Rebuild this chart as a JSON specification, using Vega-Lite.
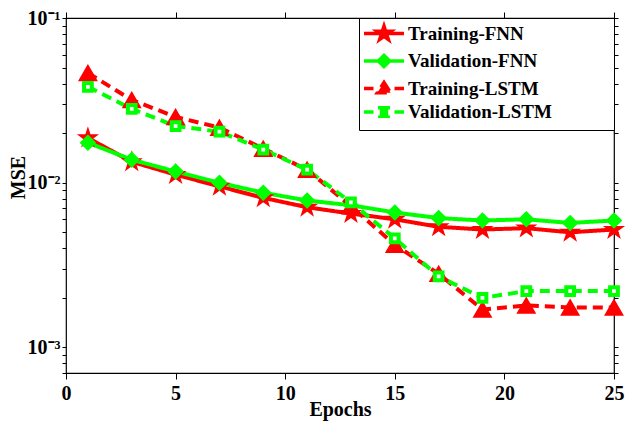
{
  "$schema": "https://vega.github.io/schema/vega-lite/v6.json",
  "width": 548,
  "height": 355,
  "autosize": {"type": "none"},
  "padding": {"left": 66, "top": 18, "right": 12, "bottom": 48},
  "background": "white",
  "config": {"view": {"stroke": "black", "strokeWidth": 1.2}, "font": "Liberation Serif"},
  "data": {
    "values": [
      {"epoch": 1, "series": "Training-FNN", "mse": 0.0187},
      {"epoch": 3, "series": "Training-FNN", "mse": 0.0134},
      {"epoch": 5, "series": "Training-FNN", "mse": 0.0112},
      {"epoch": 7, "series": "Training-FNN", "mse": 0.0095},
      {"epoch": 9, "series": "Training-FNN", "mse": 0.0081},
      {"epoch": 11, "series": "Training-FNN", "mse": 0.0071},
      {"epoch": 13, "series": "Training-FNN", "mse": 0.0065},
      {"epoch": 15, "series": "Training-FNN", "mse": 0.0060},
      {"epoch": 17, "series": "Training-FNN", "mse": 0.0054},
      {"epoch": 19, "series": "Training-FNN", "mse": 0.0052},
      {"epoch": 21, "series": "Training-FNN", "mse": 0.0053},
      {"epoch": 23, "series": "Training-FNN", "mse": 0.0050},
      {"epoch": 25, "series": "Training-FNN", "mse": 0.0052},
      {"epoch": 1, "series": "Validation-FNN", "mse": 0.0175},
      {"epoch": 3, "series": "Validation-FNN", "mse": 0.0138},
      {"epoch": 5, "series": "Validation-FNN", "mse": 0.0117},
      {"epoch": 7, "series": "Validation-FNN", "mse": 0.0100},
      {"epoch": 9, "series": "Validation-FNN", "mse": 0.0087},
      {"epoch": 11, "series": "Validation-FNN", "mse": 0.0078},
      {"epoch": 13, "series": "Validation-FNN", "mse": 0.0073},
      {"epoch": 15, "series": "Validation-FNN", "mse": 0.0066},
      {"epoch": 17, "series": "Validation-FNN", "mse": 0.0061},
      {"epoch": 19, "series": "Validation-FNN", "mse": 0.0059},
      {"epoch": 21, "series": "Validation-FNN", "mse": 0.0060},
      {"epoch": 23, "series": "Validation-FNN", "mse": 0.0057},
      {"epoch": 25, "series": "Validation-FNN", "mse": 0.0059},
      {"epoch": 1, "series": "Training-LSTM", "mse": 0.0464},
      {"epoch": 3, "series": "Training-LSTM", "mse": 0.0318},
      {"epoch": 5, "series": "Training-LSTM", "mse": 0.0251},
      {"epoch": 7, "series": "Training-LSTM", "mse": 0.0216},
      {"epoch": 9, "series": "Training-LSTM", "mse": 0.0161},
      {"epoch": 11, "series": "Training-LSTM", "mse": 0.0120},
      {"epoch": 13, "series": "Training-LSTM", "mse": 0.0072},
      {"epoch": 15, "series": "Training-LSTM", "mse": 0.0042},
      {"epoch": 17, "series": "Training-LSTM", "mse": 0.0028},
      {"epoch": 19, "series": "Training-LSTM", "mse": 0.0017},
      {"epoch": 21, "series": "Training-LSTM", "mse": 0.0018},
      {"epoch": 23, "series": "Training-LSTM", "mse": 0.00175},
      {"epoch": 25, "series": "Training-LSTM", "mse": 0.00175},
      {"epoch": 1, "series": "Validation-LSTM", "mse": 0.0382},
      {"epoch": 3, "series": "Validation-LSTM", "mse": 0.0281},
      {"epoch": 5, "series": "Validation-LSTM", "mse": 0.0221},
      {"epoch": 7, "series": "Validation-LSTM", "mse": 0.0204},
      {"epoch": 9, "series": "Validation-LSTM", "mse": 0.0159},
      {"epoch": 11, "series": "Validation-LSTM", "mse": 0.0120},
      {"epoch": 13, "series": "Validation-LSTM", "mse": 0.0076},
      {"epoch": 15, "series": "Validation-LSTM", "mse": 0.0046},
      {"epoch": 17, "series": "Validation-LSTM", "mse": 0.0027},
      {"epoch": 19, "series": "Validation-LSTM", "mse": 0.0020},
      {"epoch": 21, "series": "Validation-LSTM", "mse": 0.0022},
      {"epoch": 23, "series": "Validation-LSTM", "mse": 0.0022},
      {"epoch": 25, "series": "Validation-LSTM", "mse": 0.0022}
    ]
  },
  "layer": [
    {
      "encoding": {
        "x": {"field": "epoch", "type": "quantitative", "scale": {"domain": [0, 25], "nice": false}},
        "y": {"field": "mse", "type": "quantitative", "scale": {"type": "log", "domain": [0.0007, 0.1], "nice": false}}
      },
      "layer": [
        {
          "mark": {"type": "line", "strokeWidth": 4},
          "encoding": {
            "x": {
              "field": "epoch", "type": "quantitative",
              "scale": {"domain": [0, 25], "nice": false},
              "axis": {
                "orient": "bottom", "values": [0, 5, 10, 15, 20, 25], "grid": false, "domain": false,
                "tickColor": "black", "tickSize": 6, "labelPadding": 4,
                "labelFont": "Liberation Serif", "labelFontSize": 20, "labelFontWeight": "bold", "labelColor": "black",
                "labelFlush": false,
                "title": "Epochs", "titleFont": "Liberation Serif", "titleFontSize": 20, "titleFontWeight": "bold", "titleColor": "black",
                "titleY": 36, "titleBaseline": "middle",
                "encode": {"ticks": {"update": {"y2": {"value": -6}}}}
              }
            },
            "y": {
              "field": "mse", "type": "quantitative",
              "scale": {"type": "log", "domain": [0.0007, 0.1], "nice": false},
              "axis": {
                "orient": "left",
                "values": [0.0007, 0.0008, 0.0009, 0.001, 0.002, 0.003, 0.004, 0.005, 0.006, 0.007, 0.008, 0.009, 0.01, 0.02, 0.03, 0.04, 0.05, 0.06, 0.07, 0.08, 0.09, 0.1],
                "labelExpr": "datum.value == 0.1 ? '10⁻¹' : datum.value == 0.01 ? '10⁻²' : datum.value == 0.001 ? '10⁻³' : ''",
                "grid": false, "domain": false, "tickColor": "black", "tickSize": 4, "labelPadding": 2,
                "labelFont": "Liberation Serif", "labelFontSize": 20, "labelFontWeight": "bold", "labelColor": "black",
                "labelFlush": false, "labelOverlap": false,
                "title": "MSE", "titleFont": "Liberation Serif", "titleFontSize": 20, "titleFontWeight": "bold", "titleColor": "black",
                "titleX": -48, "titleY": 159, "titleAngle": 270, "titleAlign": "center", "titleBaseline": "middle",
                "encode": {"ticks": {"update": {"x2": {"signal": "(datum.value == 0.1 || datum.value == 0.01 || datum.value == 0.001) ? 8 : 4"}}}}
              }
            },
            "color": {
              "field": "series", "type": "nominal",
              "scale": {"domain": ["Training-FNN", "Validation-FNN", "Training-LSTM", "Validation-LSTM"], "range": ["#ff0000", "#00ff00", "#ff0000", "#00ff00"]},
              "legend": {
                "title": null, "orient": "top-right", "offset": 0, "padding": 6,
                "strokeColor": "black", "fillColor": "white",
                "labelFont": "Liberation Serif", "labelFontSize": 19, "labelFontWeight": "bold", "labelColor": "black",
                "labelLimit": 400, "labelOffset": 24,
                "labelExpr": "datum.label + '\u2800\u2800\u2800\u2800'",
                "symbolSize": 196, "symbolStrokeWidth": 3.5, "rowPadding": 0.5,
                "encode": {
                  "symbols": {"update": {
                    "shape": {"signal": "datum.value == 'Training-FNN' ? 'M-2.86,0L2.86,0M0,-1.05L0.236,-0.324L0.999,-0.324L0.381,0.124L0.617,0.849L0,0.401L-0.617,0.849L-0.381,0.124L-0.999,-0.324L-0.236,-0.324Z' : datum.value == 'Validation-FNN' ? 'M-2.86,0L2.86,0M-0.8,0L0,-0.8L0.8,0L0,0.8Z' : datum.value == 'Training-LSTM' ? 'M-2.86,0L-1.5,0M1.5,0L2.86,0M0,-0.85L0.95,0.6L-0.95,0.6Z' : 'M-2.86,0L-1.5,0M1.5,0L2.86,0M-0.6,-0.6L0.6,-0.6L0.6,0.6L-0.6,0.6Z'"},
                    "fill": {"signal": "indexof(datum.value, 'Training') == 0 ? '#ff0000' : '#00ff00'"},
                    "stroke": {"signal": "indexof(datum.value, 'Training') == 0 ? '#ff0000' : '#00ff00'"},
                    "x": {"value": 19}
                  }}
                }
              }
            },
            "strokeDash": {
              "field": "series", "type": "nominal",
              "scale": {"domain": ["Training-FNN", "Validation-FNN", "Training-LSTM", "Validation-LSTM"], "range": [[1, 0], [1, 0], [10, 6], [10, 6]]},
              "legend": null
            }
          }
        },
        {
          "transform": [{"filter": "datum.series == 'Training-FNN'"}],
          "mark": {"type": "point", "shape": "M0,-1L0.2245,-0.309L0.951,-0.309L0.363,0.118L0.588,0.809L0,0.382L-0.588,0.809L-0.363,0.118L-0.951,-0.309L-0.2245,-0.309Z", "size": 340, "filled": true, "fill": "#ff0000", "stroke": "#ff0000", "strokeWidth": 1.5, "opacity": 1}
        },
        {
          "transform": [{"filter": "datum.series == 'Validation-FNN'"}],
          "mark": {"type": "point", "shape": "diamond", "size": 210, "filled": true, "fill": "#00ff00", "stroke": "#00ff00", "strokeWidth": 1.5, "opacity": 1}
        },
        {
          "transform": [{"filter": "datum.series == 'Training-LSTM'"}],
          "mark": {"type": "point", "shape": "triangle-up", "size": 300, "filled": true, "fill": "#ff0000", "stroke": "#ff0000", "strokeWidth": 1.5, "opacity": 1}
        },
        {
          "transform": [{"filter": "datum.series == 'Validation-LSTM'"}],
          "mark": {"type": "point", "shape": "square", "size": 60, "filled": false, "fill": "#ffffff", "stroke": "#00ff00", "strokeWidth": 4, "opacity": 1}
        }
      ]
    },
    {
      "mark": {"type": "point", "opacity": 0},
      "encoding": {
        "x": {
          "field": "epoch", "type": "quantitative",
          "scale": {"domain": [0, 25], "nice": false},
          "axis": {
            "orient": "top", "values": [0, 5, 10, 15, 20, 25], "grid": false, "domain": false, "labels": false, "title": null,
            "tickColor": "black", "tickSize": 6,
            "encode": {"ticks": {"update": {"y2": {"value": 6}}}}
          }
        },
        "y": {
          "field": "mse", "type": "quantitative",
          "scale": {"type": "log", "domain": [0.0007, 0.1], "nice": false},
          "axis": {
            "orient": "right",
            "values": [0.0007, 0.0008, 0.0009, 0.001, 0.002, 0.003, 0.004, 0.005, 0.006, 0.007, 0.008, 0.009, 0.01, 0.02, 0.03, 0.04, 0.05, 0.06, 0.07, 0.08, 0.09, 0.1],
            "grid": false, "domain": false, "labels": false, "title": null, "tickColor": "black", "tickSize": 4,
            "encode": {"ticks": {"update": {"x2": {"signal": "(datum.value == 0.1 || datum.value == 0.01 || datum.value == 0.001) ? -8 : -4"}}}}
          }
        }
      }
    }
  ],
  "resolve": {"axis": {"x": "independent", "y": "independent"}}
}
